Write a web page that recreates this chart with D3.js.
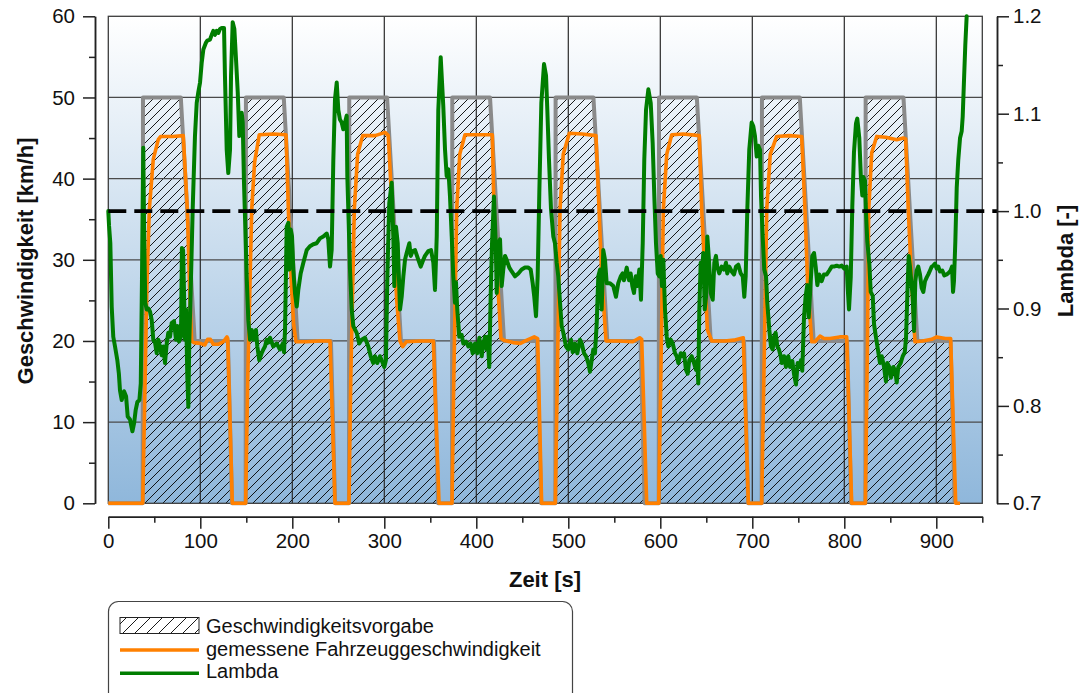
<!DOCTYPE html>
<html>
<head>
<meta charset="utf-8">
<script src="https://cdn.jsdelivr.net/npm/d3@7"></script>
<style>
  html, body { margin: 0; padding: 0; background: #fff; }
  svg { display: block; font-family: "Liberation Sans", Arial, sans-serif; }
</style>
</head>
<body>
<svg id="chart" width="1079" height="693"></svg>
<script>
// Speed target (Geschwindigkeitsvorgabe): time [s] / speed [km/h]
const targetTime = [0, 37.4, 37.7, 78.8, 93.9, 130, 134.5,
  149.3, 149.6, 190.7, 205.8, 242, 246.5,
  261.6, 261.9, 303.0, 318.1, 354, 358.5,
  373.6, 373.9, 414.9, 430.1, 466, 470.5,
  485.9, 486.2, 527.3, 542.4, 578.5, 583,
  598.3, 598.6, 639.7, 654.8, 691, 695.5,
  710.2, 710.5, 751.6, 766.7, 803, 807.5,
  822.9, 823.2, 864.3, 879.4, 915.5, 920];
const targetSpeed = [0, 0, 50, 50, 20, 20, 0,
  0, 50, 50, 20, 20, 0,
  0, 50, 50, 20, 20, 0,
  0, 50, 50, 20, 20, 0,
  0, 50, 50, 20, 20, 0,
  0, 50, 50, 20, 20, 0,
  0, 50, 50, 20, 20, 0,
  0, 50, 50, 20, 20, 0];

// Measured vehicle speed (gemessene Fahrzeuggeschwindigkeit)
const speedTime = [0, 37.4,
  39.5, 42.0, 44.6, 48.9, 54.3, 57, 70, 81.5, 85.9, 88.8, 90.6, 93, 100, 105, 108, 111, 114, 120, 125, 129, 129.8, 134.8, 149.3,
  151.5, 155.9, 159, 164.1, 180, 193.2, 195.7, 199, 201.5, 204, 215, 230, 241, 246.4, 261.6,
  263.5, 267.4, 271, 276.5, 290, 300.8, 304.3, 307, 310.6, 313.5, 317, 320, 324, 340, 353.3, 359.5, 373.6,
  375.5, 378.7, 382, 387.7, 400, 417.4, 419.2, 422.8, 426.8, 430, 440, 448, 455, 463, 466.7, 471, 485.9,
  488, 491, 494.5, 501.1, 515, 530.1, 533.4, 536.3, 541, 555, 570, 577.6, 579.8, 585.2, 598.3,
  600.5, 603.3, 607, 612.4, 625, 642.4, 645, 648.6, 651.1, 656, 670, 680, 690.2, 695.7, 710.2,
  712.5, 715.7, 719.5, 726.5, 740, 753.7, 757.3, 760.2, 764.6, 768, 773.6, 778, 784.5, 795, 802.6, 808, 822.9,
  825.2, 826.5, 829.8, 835.2, 845, 857, 864.1, 866.7, 869.6, 873.3, 876.8, 885, 895, 900.4, 910, 915.6, 921.1, 925.8];
const speedValue = [0, 0,
  12, 27, 36.2, 42.4, 44.8, 45.2, 45.2, 45.3, 36.2, 25, 20, 19.8, 19.7, 19.5, 20.2, 20.2, 19.6, 19.6, 19.9, 20.5, 20.3, 0, 0,
  15, 36.2, 42, 45.4, 45.5, 45.4, 36.2, 27, 22, 19.9, 19.9, 20, 20, 0, 0,
  15, 36.2, 43, 45.3, 45.3, 45.7, 45.3, 39.5, 32, 25, 20, 19.3, 19.9, 20, 20, 0, 0,
  15, 36.2, 43, 45.4, 45.4, 45.4, 36.2, 28, 20.3, 20.1, 19.8, 19.7, 20.1, 20.5, 20.3, 0, 0,
  15, 36.2, 43, 45.6, 45.5, 45.3, 36.2, 28, 20, 20, 19.9, 20.4, 20.2, 0, 0,
  15, 36.2, 43, 45.4, 45.5, 45.3, 36.2, 28, 21.4, 20, 20, 20.1, 20.4, 0, 0,
  15, 36.2, 43, 45.2, 45.3, 45.2, 36, 26.9, 19.9, 19.9, 20.6, 20.3, 20.3, 20.5, 20.5, 0, 0,
  20, 36, 43.2, 45.2, 45.1, 44.8, 45.0, 44.9, 36, 26.9, 19.9, 20, 20.2, 20.5, 20.3, 20.3, 0, 0];

// Lambda (air-fuel equivalence ratio), right axis
const lambdaTime = [0, 0.8, 2.2, 3.7, 5.4, 7.3, 9.8, 11.5, 12.7, 14.6, 17.1, 19.3, 21.1, 23.6, 26.2, 28.0, 29.8, 31.6, 33.8, 35.3, 36.6, 38.0, 39.1, 40.2, 41.7, 43.5, 45.3, 47.2, 48.9, 50.8, 52.6, 54.3, 56.2, 58.0, 59.8, 61.6, 63.5, 65.2, 67.1, 68.9, 71.4, 73.6, 75.0, 76.8, 79.0, 80.0, 81.3, 83.4, 84.5, 85.9, 87.0, 88.0, 89.5, 91.7, 94.2, 96.1, 97.8, 99.7, 101.5, 103.3, 106.2, 107.6, 110.5, 112.4, 114.1, 116.0, 117.8, 119.6, 121.4, 123.3, 125.8, 126.8, 128.7, 130.4, 132.3, 133.4, 135.2, 137.0, 138.8, 140.7, 142.4, 145.0, 146.1, 147.5, 148.9, 150.4, 152.2, 154.0, 155.9, 158.4, 160.5, 162.0, 164.1, 166.7, 168.5, 170.3, 172.2, 174.0, 175.8,
  179.3, 183.0, 186.6, 189.6, 191.0, 192.1, 193.9, 195.7, 196.7, 198.3, 199.7, 201.1, 202.9, 204.8, 206.5, 209.1, 212.0, 215.7, 219.2, 222.8, 226.5, 230.1, 233.7, 237.4, 239.1, 241.0, 242.8, 244.6, 246.4, 248.3, 250.0, 251.8, 253.7, 255.4, 257.3, 259.1, 259.8, 261.3, 262.7, 264.6, 266.3, 270.0, 272.8, 275.4, 279.0, 282.6, 285.2, 288.0, 289.9, 292.4, 295.3, 298.3, 300.0, 301.8, 303.3, 305.4, 308.0, 309.8, 310.9, 312.7, 314.6, 317.1, 318.9, 320.7, 322.5, 324.3, 327.2, 328.7, 330.9, 333.4, 337.0, 339.6, 342.4, 344.2, 347.8, 350.8, 353.3, 355.1, 357.0, 358.7, 361.3,
  364.1, 366.0, 367.8, 369.6, 371.4, 373.3, 375.0, 376.8, 377.9, 379.3, 381.5, 384.1, 385.9, 388.8, 391.3, 393.9, 396.1, 398.6, 401.1, 403.3, 405.9, 407.6, 409.5, 411.3, 412.4, 414.1, 415.7, 417.1, 419.2, 421.1, 422.2, 423.9, 425.8, 427.6, 429.3, 431.2, 433.0, 435.9, 438.5, 442.1, 445.7, 449.3, 452.9, 456.5, 459.1, 461.3, 463.0, 464.9, 466.7, 468.5, 470.7, 473.6, 475.8, 477.2, 479.0, 481.2, 483.7, 485.5, 487.4, 489.1, 491.0, 492.8, 494.6, 497.5, 500.0, 502.9, 504.8, 507.3, 509.8, 512.7, 514.6, 517.1, 519.2, 521.7, 523.6, 525.4, 527.2, 529.0, 530.9, 532.6, 534.5, 536.3, 538.0, 539.9, 541.7,
  545.3, 548.9, 551.8, 554.3, 557.0, 559.1, 560.5, 563.5, 566.0, 567.8, 569.6, 571.4, 573.3, 575.0, 577.2, 579.0, 580.9, 582.6, 584.5, 587.0, 589.6, 591.7, 593.5, 595.3, 597.2, 598.9, 600.4, 601.8, 603.3, 605.1, 607.0, 608.7, 611.3, 613.5, 616.0, 617.8, 619.6, 622.2, 624.3, 625.8, 627.9, 629.8, 631.5, 634.1, 636.6, 638.8, 640.2, 641.3, 642.4, 643.9, 645.3, 646.7, 648.3, 649.7, 651.1, 652.9, 654.8, 657.0, 658.7, 660.5, 661.9, 664.1, 666.7, 669.2, 671.4, 672.8, 675.0, 677.6, 680.1, 682.3, 684.8, 687.4, 689.6, 691.3, 692.8, 694.6, 696.7, 699.3, 701.1, 702.9, 704.8, 706.5, 708.4, 709.5, 711.3, 713.0, 714.9, 716.3, 718.5, 720.3, 722.2, 723.6, 725.4, 727.2, 729.0,
  730.9, 732.0, 734.5, 736.6, 739.1, 741.0, 743.5, 745.3, 747.5, 749.3, 751.1, 752.9, 754.3, 756.2, 758.0, 759.8, 761.3, 763.5, 765.2, 767.1, 768.9, 770.7, 772.8, 775.4, 777.9, 780.9, 783.7, 786.3, 788.8, 791.7, 794.6, 797.2, 800.0, 802.6, 803.7, 805.1, 807.0, 808.7, 810.5, 812.7, 814.1, 816.3, 818.2, 819.6, 820.7, 822.5, 823.6, 825.0, 827.2, 828.7, 830.9, 832.3, 834.5, 837.0, 838.8, 840.7, 843.2, 845.3, 846.7, 848.9, 850.8, 853.3, 855.4, 857.0, 858.7, 861.3, 863.5, 865.7, 867.1, 868.5, 870.0, 871.4, 872.8, 874.3, 875.8, 877.2, 878.7, 880.4, 882.3, 884.1, 885.9, 887.7, 889.6, 891.3, 893.2, 895.0, 896.7, 898.6, 900.4, 902.2, 904.0, 906.5, 908.7, 911.3, 913.8, 915.6, 917.1, 918.2, 919.2, 920.7, 922.2, 923.9, 925.8, 927.6, 928.7, 930.1, 931.5, 933.0];
const lambdaValue = [1.000, 0.985, 0.967, 0.902, 0.871, 0.861, 0.847, 0.833, 0.816, 0.806, 0.815, 0.810, 0.789, 0.786, 0.774, 0.782, 0.796, 0.804, 0.806, 0.823, 0.930, 1.065, 0.967, 0.906, 0.899, 0.900, 0.897, 0.888, 0.868, 0.865, 0.854, 0.868, 0.861, 0.852, 0.861, 0.844, 0.864, 0.875, 0.871, 0.885, 0.887, 0.868, 0.882, 0.866, 0.871, 0.962, 0.960, 0.868, 0.899, 0.830, 0.799, 0.864, 0.916, 1.001, 1.077, 1.111, 1.122, 1.132, 1.152, 1.166, 1.173, 1.175, 1.176, 1.181, 1.185, 1.181, 1.185, 1.183, 1.187, 1.188, 1.188, 1.139, 1.063, 1.039, 1.063, 1.139, 1.194, 1.187, 1.156, 1.122, 1.077, 1.101, 1.091, 1.029, 0.984, 0.933, 0.888, 0.868, 0.878, 0.868, 0.878, 0.861, 0.847, 0.854, 0.858, 0.861, 0.868, 0.865, 0.870,
  0.861, 0.864, 0.858, 0.864, 0.855, 0.878, 0.984, 0.988, 0.940, 0.981, 0.974, 0.940, 0.916, 0.902, 0.919, 0.936, 0.947, 0.960, 0.964, 0.966, 0.967, 0.972, 0.974, 0.977, 0.971, 0.943, 0.960, 1.053, 1.115, 1.132, 1.104, 1.094, 1.091, 1.084, 1.091, 1.098, 1.036, 0.988, 0.940, 0.899, 0.882, 0.875, 0.864, 0.868, 0.870, 0.861, 0.851, 0.844, 0.851, 0.844, 0.851, 0.844, 0.840, 0.847, 0.933, 1.008, 1.029, 0.974, 0.923, 0.984, 0.967, 0.899, 0.912, 0.933, 0.950, 0.957, 0.967, 0.954, 0.959, 0.960, 0.950, 0.943, 0.950, 0.954, 0.959, 0.960, 0.947, 0.919, 0.974, 1.104, 1.158,
  1.108, 1.063, 1.036, 1.043, 1.015, 0.974, 0.933, 0.906, 0.927, 0.899, 0.871, 0.873, 0.864, 0.866, 0.861, 0.864, 0.854, 0.864, 0.854, 0.870, 0.851, 0.864, 0.871, 0.858, 0.871, 0.840, 0.916, 0.967, 1.015, 0.967, 0.916, 0.967, 0.971, 0.923, 0.940, 0.954, 0.950, 0.942, 0.938, 0.933, 0.936, 0.940, 0.942, 0.942, 0.940, 0.926, 0.912, 0.892, 0.933, 1.019, 1.111, 1.151, 1.139, 1.104, 1.053, 1.002, 0.974, 0.967, 0.947, 0.933, 0.906, 0.882, 0.875, 0.861, 0.858, 0.868, 0.855, 0.864, 0.854, 0.868, 0.864, 0.854, 0.851, 0.844, 0.835, 0.847, 0.858, 0.854, 0.885, 0.933, 0.940, 0.899, 0.960, 0.950, 0.926,
  0.926, 0.923, 0.912, 0.926, 0.933, 0.936, 0.929, 0.942, 0.929, 0.936, 0.923, 0.916, 0.933, 0.923, 0.940, 0.909, 0.967, 1.053, 1.104, 1.125, 1.111, 1.070, 1.015, 0.967, 0.936, 0.933, 0.954, 0.923, 0.950, 0.899, 0.871, 0.861, 0.868, 0.864, 0.854, 0.851, 0.844, 0.854, 0.851, 0.854, 0.837, 0.833, 0.847, 0.851, 0.844, 0.837, 0.847, 0.823, 0.899, 0.947, 0.933, 0.957, 0.899, 0.912, 0.974, 0.950, 0.916, 0.909, 0.947, 0.954, 0.943, 0.936, 0.943, 0.940, 0.947, 0.936, 0.943, 0.938, 0.935, 0.943, 0.945, 0.936, 0.933, 0.912, 0.933, 1.002, 1.063, 1.091, 1.087, 1.077, 1.056, 1.067, 1.063, 1.015, 0.974, 0.940, 0.933, 0.906, 0.878, 0.861, 0.858, 0.871, 0.875, 0.861, 0.858,
  0.851, 0.844, 0.851, 0.840, 0.851, 0.840, 0.846, 0.833, 0.822, 0.844, 0.840, 0.847, 0.836, 0.891, 0.913, 0.924, 0.891, 0.928, 0.954, 0.957, 0.943, 0.924, 0.935, 0.928, 0.935, 0.935, 0.939, 0.943, 0.943, 0.944, 0.943, 0.944, 0.941, 0.943, 0.921, 0.899, 0.932, 1.005, 1.060, 1.090, 1.095, 1.075, 1.031, 1.016, 1.035, 1.031, 0.998, 0.969, 0.946, 0.917, 0.913, 0.884, 0.870, 0.855, 0.844, 0.851, 0.840, 0.825, 0.844, 0.840, 0.829, 0.840, 0.836, 0.824, 0.840, 0.844, 0.851, 0.855, 0.870, 0.913, 0.954, 0.943, 0.928, 0.913, 0.877, 0.928, 0.939, 0.943, 0.935, 0.921, 0.917, 0.928, 0.932, 0.935, 0.939, 0.943, 0.944, 0.946, 0.941, 0.943, 0.938, 0.939, 0.934, 0.935, 0.937, 0.939, 0.943, 0.917, 0.928, 0.969, 1.024, 1.053, 1.075, 1.082, 1.097, 1.134, 1.170, 1.200];

// Axis ticks and labels
const timeMajorTicks = [0, 100, 200, 300, 400, 500, 600, 700, 800, 900];
const timeMinorTicks = [50, 150, 250, 350, 450, 550, 650, 750, 850, 950];
const speedMajorTicks = [0, 10, 20, 30, 40, 50, 60];
const speedMinorTicks = [5, 15, 25, 35, 45, 55];
const lambdaMajorTicks = [0.7, 0.8, 0.9, 1.0, 1.1, 1.2];
const lambdaMinorTicks = [0.75, 0.85, 0.95, 1.05, 1.15];
const speedGrid = [10, 20, 30, 40, 50];
const lambdaReference = 1.0;
const legendLabels = ["Geschwindigkeitsvorgabe", "gemessene Fahrzeuggeschwindigkeit", "Lambda"];
const axisTitles = { x: "Zeit [s]", yLeft: "Geschwindigkeit [km/h]", yRight: "Lambda [-]" };

// ---- drawing ----
const svg = d3.select("#chart");
const plot = { left: 108.3, right: 982.3, top: 16.3, bottom: 503.3 };

const x = d3.scaleLinear().domain([0, 950]).range([plot.left, plot.right]);
const yL = d3.scaleLinear().domain([0, 60]).range([plot.bottom, plot.top]);
const yR = d3.scaleLinear().domain([0.7, 1.2]).range([plot.bottom, plot.top]);

const target = targetTime.map((t, i) => ({ t, v: targetSpeed[i] }));
const measured = speedTime.map((t, i) => ({ t, v: speedValue[i] }));
const lambda = lambdaTime.map((t, i) => ({ t, v: lambdaValue[i] }));

const defs = svg.append("defs");
const grad = defs.append("linearGradient").attr("id", "bgGrad")
  .attr("x1", 0).attr("y1", 0).attr("x2", 0).attr("y2", 1);
grad.append("stop").attr("offset", "0%").attr("stop-color", "#ffffff");
grad.append("stop").attr("offset", "100%").attr("stop-color", "#8fb7db");

function hatchPattern(id, size) {
  const p = defs.append("pattern").attr("id", id)
    .attr("patternUnits", "userSpaceOnUse")
    .attr("width", size).attr("height", size);
  p.append("path")
    .attr("d", `M-1,1 l2,-2 M0,${size} l${size},${-size} M${size - 1},${size + 1} l2,-2`)
    .attr("stroke", "#000").attr("stroke-width", 0.9).attr("fill", "none");
}
hatchPattern("hatch", 9);
hatchPattern("hatchLegend", 12);

// plot background
svg.append("rect")
  .attr("x", plot.left).attr("y", plot.top)
  .attr("width", plot.right - plot.left).attr("height", plot.bottom - plot.top)
  .attr("fill", "url(#bgGrad)");

// hatched target area
svg.append("path").datum(target)
  .attr("d", d3.area().x(d => x(d.t)).y0(yL(0)).y1(d => yL(d.v)))
  .attr("fill", "url(#hatch)");

// grid
const grid = svg.append("g");
grid.selectAll("line.h").data(speedGrid).join("line")
  .attr("x1", plot.left).attr("x2", plot.right)
  .attr("y1", d => yL(d)).attr("y2", d => yL(d))
  .attr("stroke", "#4a4a4a").attr("stroke-width", 1.3);
grid.selectAll("line.v").data(timeMajorTicks.slice(1)).join("line")
  .attr("y1", plot.top).attr("y2", plot.bottom)
  .attr("x1", d => x(d)).attr("x2", d => x(d))
  .attr("stroke", "#2a2a2a").attr("stroke-width", 1.2);
svg.append("rect")
  .attr("x", plot.left).attr("y", plot.top)
  .attr("width", plot.right - plot.left).attr("height", plot.bottom - plot.top)
  .attr("fill", "none").attr("stroke", "#3c3c3c").attr("stroke-width", 1.3);

// target outline
svg.append("path").datum(target)
  .attr("d", d3.line().x(d => x(d.t)).y(d => yL(d.v)))
  .attr("fill", "none").attr("stroke", "#8a8a8a").attr("stroke-width", 4)
  .attr("stroke-linejoin", "round");

// measured speed
svg.append("path").datum(measured)
  .attr("d", d3.line().x(d => x(d.t)).y(d => yL(d.v)))
  .attr("fill", "none").attr("stroke", "#ff8000").attr("stroke-width", 3.6)
  .attr("stroke-linejoin", "round");

// lambda
svg.append("path").datum(lambda)
  .attr("d", d3.line().x(d => x(d.t)).y(d => yR(d.v)))
  .attr("fill", "none").attr("stroke", "#007d00").attr("stroke-width", 4)
  .attr("stroke-linejoin", "round").attr("stroke-linecap", "round");

// lambda = 1 reference
svg.append("line")
  .attr("x1", plot.left).attr("x2", 997)
  .attr("y1", yR(lambdaReference)).attr("y2", yR(lambdaReference))
  .attr("stroke", "#000").attr("stroke-width", 3.6)
  .attr("stroke-dasharray", "18,8");

// axes
function styleAxis(g) {
  g.selectAll("path.domain").attr("stroke", "#222").attr("stroke-width", 1.5);
  g.selectAll(".tick line").attr("stroke", "#222").attr("stroke-width", 1.5);
  g.selectAll(".tick text").attr("fill", "#111")
    .attr("font-size", "20.5px").attr("font-family", "Liberation Sans, Arial, sans-serif");
}
const leftAxis = svg.append("g").attr("transform", "translate(95,0)")
  .call(d3.axisLeft(yL).tickValues(speedMajorTicks).tickSize(12).tickSizeOuter(0).tickPadding(8));
svg.append("g").attr("transform", "translate(95,0)")
  .call(d3.axisLeft(yL).tickValues(speedMinorTicks).tickSize(6).tickSizeOuter(0).tickFormat(""))
  .call(styleAxis);
leftAxis.call(styleAxis);

const rightAxis = svg.append("g").attr("transform", "translate(997,0)")
  .call(d3.axisRight(yR).tickValues(lambdaMajorTicks).tickSize(12).tickSizeOuter(0).tickPadding(4)
    .tickFormat(d3.format(".1f")));
svg.append("g").attr("transform", "translate(997,0)")
  .call(d3.axisRight(yR).tickValues(lambdaMinorTicks).tickSize(6).tickSizeOuter(0).tickFormat(""))
  .call(styleAxis);
rightAxis.call(styleAxis);

const bottomAxis = svg.append("g").attr("transform", "translate(0,516.7)")
  .call(d3.axisBottom(x).tickValues(timeMajorTicks).tickSize(12).tickSizeOuter(0).tickPadding(5));
svg.append("g").attr("transform", "translate(0,516.7)")
  .call(d3.axisBottom(x).tickValues(timeMinorTicks).tickSize(6).tickSizeOuter(0).tickFormat(""))
  .call(styleAxis);
bottomAxis.call(styleAxis);

// axis titles
const titleStyle = t => t.attr("font-weight", "bold").attr("font-size", "22px").attr("fill", "#111");
svg.append("text").attr("x", 545).attr("y", 587).attr("text-anchor", "middle")
  .text(axisTitles.x).call(titleStyle);
svg.append("text").attr("transform", "translate(33,261) rotate(-90)").attr("text-anchor", "middle")
  .text(axisTitles.yLeft).call(titleStyle);
svg.append("text").attr("transform", "translate(1073,261) rotate(-90)").attr("text-anchor", "middle")
  .text(axisTitles.yRight).call(titleStyle);

// legend
const legend = svg.append("g");
legend.append("rect")
  .attr("x", 108.5).attr("y", 601.5).attr("width", 464).attr("height", 130)
  .attr("rx", 10).attr("ry", 10)
  .attr("fill", "#fff").attr("stroke", "#444").attr("stroke-width", 1.2);
legend.append("rect")
  .attr("x", 120).attr("y", 617.5).attr("width", 79).attr("height", 16)
  .attr("fill", "url(#hatchLegend)").attr("stroke", "#222").attr("stroke-width", 1);
legend.append("line").attr("x1", 120).attr("x2", 199).attr("y1", 650).attr("y2", 650)
  .attr("stroke", "#ff8000").attr("stroke-width", 3.5);
legend.append("line").attr("x1", 120).attr("x2", 199).attr("y1", 673.3).attr("y2", 673.3)
  .attr("stroke", "#007d00").attr("stroke-width", 3.5);
legend.selectAll("text.lbl").data(legendLabels).join("text")
  .attr("x", 206).attr("y", (d, i) => 633 + i * 22.7)
  .attr("font-size", "20px").attr("fill", "#111")
  .text(d => d);
</script>
</body>
</html>
